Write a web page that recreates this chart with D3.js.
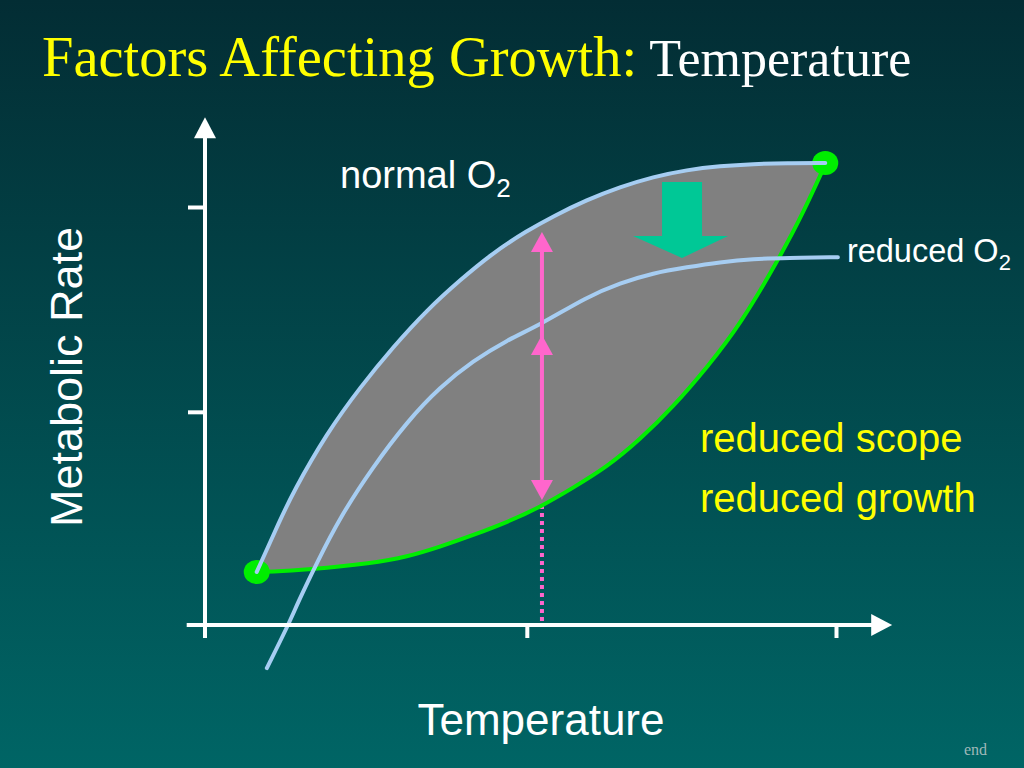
<!DOCTYPE html>
<meta charset="utf-8">

<style type="text/css">
	body {
		margin: 0;
		background: #003a40;
	}
	svg {
		display: block;
	}
	.sans {
		font-family: "Liberation Sans", Arial, sans-serif;
	}
	.serif {
		font-family: "Liberation Serif", "Times New Roman", serif;
	}
</style>

<body>

</body>

<script src="https://d3js.org/d3.v7.min.js"></script>

<script>

	// temperature and metabolic rate, arbitrary units (0-100 on the axes)
	var xTicks = [51, 100];
	var yTicks = [51, 100];

	// maximum (active) metabolic rate, normal O2
	var normalTemp = [8.2, 11.9, 13.9, 19.3, 24.6, 29.8, 35.2, 40.4, 45.6, 51.0, 55.2, 60.5, 65.8, 71.0, 76.4, 81.6, 86.9, 92.2, 98.3];
	var normalRate = [12.7, 25.1, 31.6, 45.9, 56.9, 66.5, 75.4, 82.5, 89.0, 94.3, 97.8, 101.7, 104.8, 107.2, 108.9, 109.8, 110.3, 110.5, 110.5];

	// maximum metabolic rate, reduced O2
	var reducedTemp = [9.8, 13.2, 14.7, 17.7, 21.4, 26.6, 32.0, 37.2, 42.5, 47.9, 53.1, 60.5, 65.8, 71.0, 76.4, 81.6, 86.9, 92.2, 100.3];
	var reducedRate = [-10.3, 0, 5.3, 14.8, 25.8, 37.8, 48.6, 56.9, 63.2, 68.2, 71.8, 78.5, 81.8, 84.2, 85.6, 86.8, 87.6, 87.8, 88.0];

	// standard (resting) metabolic rate
	var standardTemp = [8.2, 10.3, 16.2, 26.6, 32.0, 37.2, 42.5, 47.9, 53.1, 58.3, 63.7, 68.9, 74.2, 79.6, 84.8, 91.1, 94.8, 98.4];
	var standardRate = [12.7, 12.7, 13.2, 14.8, 16.3, 18.7, 21.5, 24.6, 28.2, 32.8, 37.8, 44.3, 52.2, 61.7, 71.8, 88.0, 98.6, 110.5];

	// scope arrow (pink) and O2 shift arrow (green)
	var scopeTemp = 53.4;
	var scopeUpRates = [94.0, 69.4];
	var scopeDownRate = 29.9;
	var shiftTemp = 75.6;
	var shiftRates = [106.0, 87.8];

	// axis line extents
	var xAxisExtent = [-2.9, 108.9];
	var yAxisExtent = [-3.1, 121.5];

	var W = 1024, H = 768;

	var xScale = d3.scaleLinear().domain([0, 100]).range([205, 836]);
	var yScale = d3.scaleLinear().domain([0, 100]).range([625, 207]);

	function zip(xs, ys) {
		return xs.map(function(d, i) { return [d, ys[i]]; });
	}
	var normal = zip(normalTemp, normalRate);
	var reduced = zip(reducedTemp, reducedRate);
	var standard = zip(standardTemp, standardRate);

	var line = d3.line()
		.x(function(d) { return xScale(d[0]); })
		.y(function(d) { return yScale(d[1]); })
		.curve(d3.curveBasis);

	var svg = d3.select("body").append("svg")
		.attr("width", W)
		.attr("height", H);

	var defs = svg.append("defs");
	var grad = defs.append("linearGradient")
		.attr("id", "bg")
		.attr("x1", 0).attr("y1", 0).attr("x2", 0).attr("y2", 1);
	grad.append("stop").attr("offset", "0%").attr("stop-color", "#032d34");
	grad.append("stop").attr("offset", "100%").attr("stop-color", "#006565");

	svg.append("rect")
		.attr("width", W).attr("height", H)
		.attr("fill", "url(#bg)");

	// title
	var title = svg.append("text")
		.attr("class", "serif")
		.attr("x", 42).attr("y", 76);
	title.append("tspan")
		.attr("fill", "#ffff00")
		.attr("font-size", 56.5)
		.text("Factors Affecting Growth:");
	title.append("tspan")
		.attr("fill", "#ffffff")
		.attr("font-size", 52)
		.text(" Temperature");

	// scope region (between max and standard rate)
	var fillPath = line(normal) + line(standard.slice().reverse()).replace(/^M/, "L") + "Z";
	svg.append("path")
		.attr("d", fillPath)
		.attr("fill", "#808080");

	// dotted drop line from scope arrow to the x axis
	svg.append("line")
		.attr("x1", xScale(scopeTemp)).attr("x2", xScale(scopeTemp))
		.attr("y1", yScale(scopeDownRate) + 5)
		.attr("y2", yScale(0))
		.attr("stroke", "#ff66cc")
		.attr("stroke-width", 4)
		.attr("stroke-dasharray", "4,4");

	// standard rate curve
	svg.append("path")
		.attr("d", line(standard))
		.attr("fill", "none")
		.attr("stroke", "#00ee00")
		.attr("stroke-width", 4);

	// end dots
	svg.selectAll("ellipse.dot")
		.data([normal[0], normal[normal.length - 1]])
		.enter()
		.append("ellipse")
		.attr("class", "dot")
		.attr("cx", function(d) { return xScale(d[0]); })
		.attr("cy", function(d) { return yScale(d[1]); })
		.attr("rx", 13).attr("ry", 12)
		.attr("fill", "#00ee00");

	// green shift arrow
	var sx = xScale(shiftTemp), sTop = yScale(shiftRates[0]), sTip = yScale(shiftRates[1]);
	svg.append("path")
		.attr("d", "M" + (sx - 20) + "," + sTop +
			"L" + (sx + 20) + "," + sTop +
			"L" + (sx + 20) + "," + (sTip - 22) +
			"L" + (sx + 46) + "," + (sTip - 22) +
			"L" + sx + "," + sTip +
			"L" + (sx - 49) + "," + (sTip - 22) +
			"L" + (sx - 20) + "," + (sTip - 22) + "Z")
		.attr("fill", "#00c896");

	// max rate curves
	[normal, reduced].forEach(function(series) {
		svg.append("path")
			.attr("d", line(series))
			.attr("fill", "none")
			.attr("stroke", "#a6cdf2")
			.attr("stroke-width", 4)
			.attr("stroke-linecap", "round");
	});

	// pink scope arrow
	var px = xScale(scopeTemp);
	svg.append("line")
		.attr("x1", px).attr("x2", px)
		.attr("y1", yScale(scopeUpRates[0]) + 10)
		.attr("y2", yScale(scopeDownRate) - 10)
		.attr("stroke", "#ff66cc")
		.attr("stroke-width", 4);

	svg.selectAll("path.up")
		.data(scopeUpRates)
		.enter()
		.append("path")
		.attr("class", "up")
		.attr("d", function(d) {
			var t = yScale(d);
			return "M" + px + "," + t + "L" + (px + 11) + "," + (t + 20) + "L" + (px - 11) + "," + (t + 20) + "Z";
		})
		.attr("fill", "#ff66cc");

	svg.append("path")
		.attr("d", function() {
			var t = yScale(scopeDownRate);
			return "M" + px + "," + t + "L" + (px + 11) + "," + (t - 20) + "L" + (px - 11) + "," + (t - 20) + "Z";
		})
		.attr("fill", "#ff66cc");

	// axes
	var axes = svg.append("g")
		.attr("stroke", "#ffffff")
		.attr("fill", "#ffffff");

	axes.append("line")
		.attr("x1", xScale(0)).attr("x2", xScale(0))
		.attr("y1", yScale(yAxisExtent[0]))
		.attr("y2", yScale(yAxisExtent[1]) + 18)
		.attr("stroke-width", 4);
	axes.append("path")
		.attr("d", function() {
			var t = yScale(yAxisExtent[1]), c = xScale(0);
			return "M" + c + "," + t + "L" + (c + 11) + "," + (t + 21) + "L" + (c - 11) + "," + (t + 21) + "Z";
		})
		.attr("stroke", "none");

	axes.append("line")
		.attr("x1", xScale(xAxisExtent[0]))
		.attr("x2", xScale(xAxisExtent[1]) - 18)
		.attr("y1", yScale(0)).attr("y2", yScale(0))
		.attr("stroke-width", 4);
	axes.append("path")
		.attr("d", function() {
			var t = xScale(xAxisExtent[1]), c = yScale(0);
			return "M" + t + "," + c + "L" + (t - 21) + "," + (c - 11) + "L" + (t - 21) + "," + (c + 11) + "Z";
		})
		.attr("stroke", "none");

	var yAxis = d3.axisLeft(yScale).tickValues(yTicks).tickSize(17).tickFormat("");
	var xAxis = d3.axisBottom(xScale).tickValues(xTicks).tickSize(13).tickFormat("");

	var gy = svg.append("g")
		.attr("transform", "translate(" + xScale(0) + ",0)")
		.call(yAxis);
	var gx = svg.append("g")
		.attr("transform", "translate(0," + yScale(0) + ")")
		.call(xAxis);
	[gx, gy].forEach(function(g) {
		g.select(".domain").remove();
		g.selectAll(".tick line")
			.attr("stroke", "#ffffff")
			.attr("stroke-width", 4);
	});

	// labels
	var normalLbl = svg.append("text")
		.attr("class", "sans")
		.attr("x", 340).attr("y", 188)
		.attr("fill", "#ffffff")
		.attr("font-size", 38)
		.text("normal O");
	normalLbl.append("tspan")
		.attr("font-size", 26)
		.attr("dy", 9)
		.text("2");

	var rEnd = reduced[reduced.length - 1];
	var reducedLbl = svg.append("text")
		.attr("class", "sans")
		.attr("x", xScale(rEnd[0]) + 9)
		.attr("y", yScale(rEnd[1]) + 5)
		.attr("fill", "#ffffff")
		.attr("font-size", 32.5)
		.text("reduced O");
	reducedLbl.append("tspan")
		.attr("font-size", 22)
		.attr("dy", 8)
		.text("2");

	svg.selectAll("text.yel")
		.data(["reduced scope", "reduced growth"])
		.enter()
		.append("text")
		.attr("class", "sans yel")
		.attr("x", 700)
		.attr("y", function(d, i) { return 452 + i * 60; })
		.attr("fill", "#ffff00")
		.attr("font-size", 40)
		.text(function(d) { return d; });

	svg.append("text")
		.attr("class", "sans")
		.attr("transform", "translate(82,377) rotate(-90)")
		.attr("text-anchor", "middle")
		.attr("fill", "#ffffff")
		.attr("font-size", 45)
		.text("Metabolic Rate");

	svg.append("text")
		.attr("class", "sans")
		.attr("x", 541).attr("y", 735)
		.attr("text-anchor", "middle")
		.attr("fill", "#ffffff")
		.attr("font-size", 44)
		.text("Temperature");

	svg.append("text")
		.attr("class", "serif")
		.attr("x", 964).attr("y", 755)
		.attr("fill", "#9fb8b8")
		.attr("font-size", 16)
		.text("end");

</script>
